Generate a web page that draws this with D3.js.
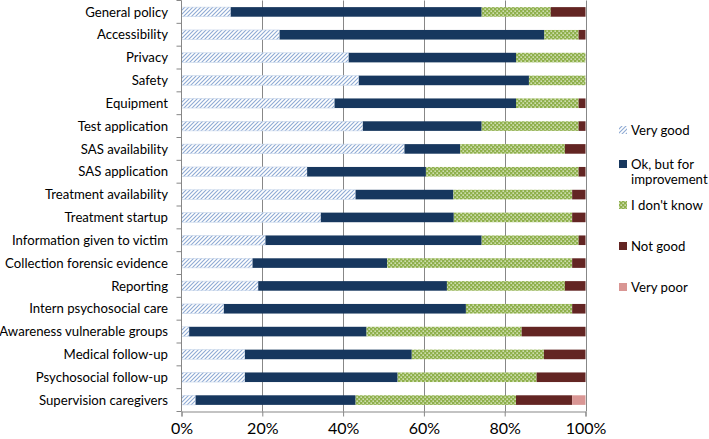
<!DOCTYPE html>
<html><head><meta charset="utf-8">
<script src="https://cdn.jsdelivr.net/npm/d3@7"></script>
<style>html,body{margin:0;padding:0;background:#fff;}svg{display:block;font-family:Lato,"Open Sans",sans-serif;}</style>
</head><body>
<svg id="chart" width="709" height="439"></svg>
<script>
const categories = ["General policy","Accessibility","Privacy","Safety","Equipment","Test application","SAS availability","SAS application","Treatment availability","Treatment startup","Information given to victim","Collection forensic evidence","Reporting","Intern psychosocial care","Awareness vulnerable groups","Medical follow-up","Psychosocial follow-up","Supervision caregivers"];
const seriesNames = ["Very good","Ok, but for improvement","I don't know","Not good","Very poor"];
const veryGood    = [12.2,24.3,41.4,43.9,37.9,44.9,55.2,31.1,43.1,34.5,20.8,17.6,19.0,10.5, 1.9,15.7,15.7, 3.5];
const okImprove   = [62.1,65.5,41.4,42.1,44.9,29.4,13.8,29.4,24.2,32.9,53.5,33.3,46.7,59.9,43.9,41.3,37.8,39.6];
const dontKnow    = [17.1, 8.5,17.2,14.0,15.5,24.0,25.9,37.8,29.4,29.3,24.0,45.8,29.2,26.3,38.4,32.7,34.4,39.7];
const notGood     = [ 8.6, 1.7, 0.0, 0.0, 1.7, 1.7, 5.1, 1.7, 3.3, 3.3, 1.7, 3.3, 5.1, 3.3,15.8,10.3,12.1,13.9];
const veryPoor    = [ 0.0, 0.0, 0.0, 0.0, 0.0, 0.0, 0.0, 0.0, 0.0, 0.0, 0.0, 0.0, 0.0, 0.0, 0.0, 0.0, 0.0, 3.3];
const tickValues  = [0,20,40,60,80,100];

const svg = d3.select("#chart");
const M = {left:181.5, right:585.5, top:0.5, bottom:411.5};

const defs = svg.append("defs");
const hatch = defs.append("pattern").attr("id","hatch").attr("patternUnits","userSpaceOnUse")
  .attr("width",4).attr("height",4);
hatch.append("rect").attr("width",4).attr("height",4).attr("fill","#fff");
hatch.append("path").attr("d","M-1,1 l2,-2 M0,4 l4,-4 M3,5 l2,-2").attr("stroke","#8eaad4").attr("stroke-width",1.1);
const dots = defs.append("pattern").attr("id","dots").attr("patternUnits","userSpaceOnUse")
  .attr("width",4).attr("height",4);
dots.append("rect").attr("width",4).attr("height",4).attr("fill","#8fb04c");
dots.append("rect").attr("x",0.5).attr("y",0.5).attr("width",1.3).attr("height",1.3).attr("fill","#f2f7e6");
dots.append("rect").attr("x",2.5).attr("y",2.5).attr("width",1.3).attr("height",1.3).attr("fill","#f2f7e6");

const fills = ["url(#hatch)","#17375e","url(#dots)","#632523","#d99694"];

const x = d3.scaleLinear().domain([0,100]).range([M.left,M.right]);
const y = d3.scaleBand().domain(categories).range([M.top,M.bottom]).paddingInner(0.58).paddingOuter(0.29);

const table = categories.map((c,i)=>({cat:c,"Very good":veryGood[i],"Ok, but for improvement":okImprove[i],"I don't know":dontKnow[i],"Not good":notGood[i],"Very poor":veryPoor[i]}));
const stacked = d3.stack().keys(seriesNames)(table);

// gridlines
svg.append("g").selectAll("line").data(tickValues.slice(1)).join("line")
  .attr("x1",d=>Math.round(x(d))+0.5).attr("x2",d=>Math.round(x(d))+0.5)
  .attr("y1",M.top).attr("y2",M.bottom).attr("stroke","#878787").attr("stroke-width",1);

// bars
stacked.forEach((s,si)=>{
  svg.append("g").selectAll("rect").data(s.filter(d=>d[1]-d[0]>0)).join("rect")
    .attr("x",d=>x(d[0])).attr("width",d=>x(d[1])-x(d[0]))
    .attr("y",d=>y(d.data.cat)).attr("height",y.bandwidth())
    .attr("fill",fills[si])
    .attr("stroke",si===0?"#c5d5ea":"none").attr("stroke-width",0.6);
});

// left axis
const yAxisG = svg.append("g").attr("transform",`translate(${M.left},0)`);
yAxisG.append("line").attr("x1",0).attr("x2",0).attr("y1",M.top).attr("y2",M.bottom).attr("stroke","#878787");
const step = (M.bottom-M.top)/categories.length;
yAxisG.selectAll("line.t").data(d3.range(categories.length+1)).join("line").attr("class","t")
  .attr("x1",-5).attr("x2",0).attr("y1",i=>M.top+i*step).attr("y2",i=>M.top+i*step).attr("stroke","#878787");
svg.append("g").selectAll("text").data(categories).join("text")
  .attr("x",168).attr("y",d=>y(d)+y.bandwidth()/2).attr("dy","0.35em")
  .attr("text-anchor","end").attr("font-size",13.2).attr("fill","#000").text(d=>d);

// bottom axis
const xAxis = d3.axisBottom(x).tickValues(tickValues).tickFormat(d=>d+"%").tickSize(5).tickPadding(6);
const xg = svg.append("g").attr("transform",`translate(0,${M.bottom})`).call(xAxis);
xg.select(".domain").attr("stroke","#878787");
xg.selectAll(".tick line").attr("stroke","#878787");
xg.selectAll(".tick text").attr("font-size",16).attr("fill","#000").attr("font-family","Lato,'Open Sans',sans-serif");

// legend
const legendItems = [
  {lines:["Very good"], y:130},
  {lines:["Ok, but for","improvement"], y:164},
  {lines:["I don't know"], y:205},
  {lines:["Not good"], y:246},
  {lines:["Very poor"], y:287}
];
const lg = svg.append("g");
legendItems.forEach((it,i)=>{
  lg.append("rect").attr("x",619).attr("y",it.y-4).attr("width",8).attr("height",8)
    .attr("fill",fills[i]);
  it.lines.forEach((ln,j)=>{
    lg.append("text").attr("x",631).attr("y",it.y+j*15.5).attr("dy","0.35em")
      .attr("font-size",13.2).attr("fill","#000").text(ln);
  });
});
</script>
</body></html>
